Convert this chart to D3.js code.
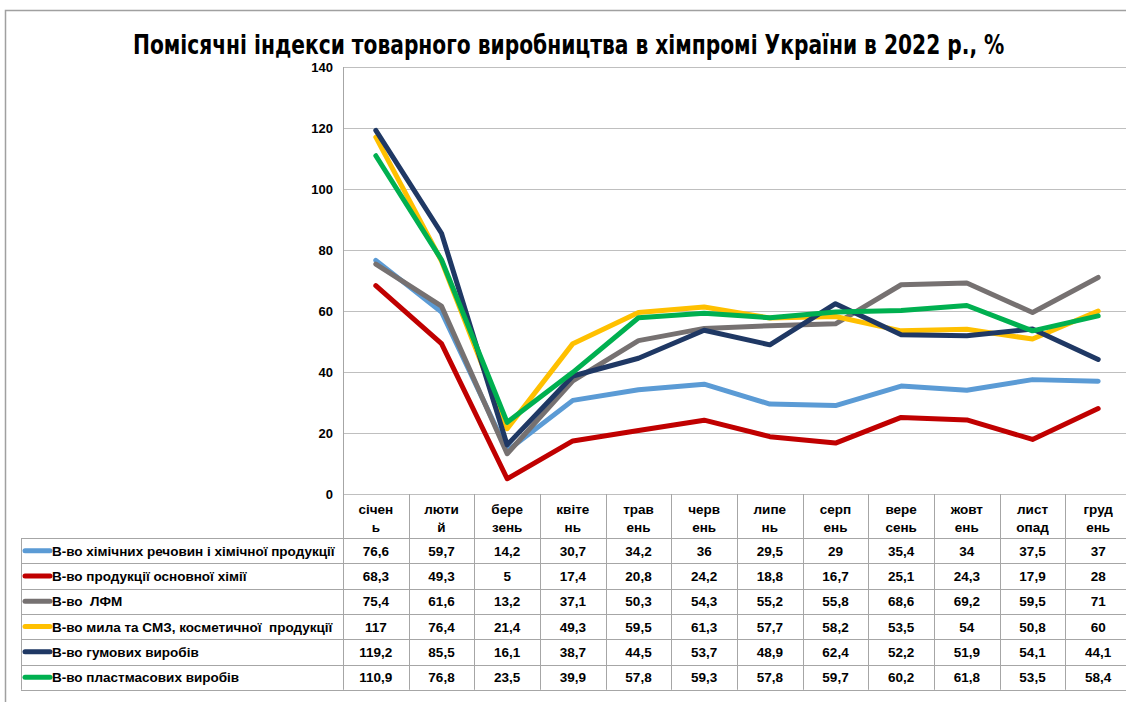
<!DOCTYPE html>
<html>
<head>
<meta charset="utf-8">
<script src="https://cdn.jsdelivr.net/npm/d3@7"></script>
<style>
  html, body { margin: 0; padding: 0; background: #fff; }
  svg { display: block; }
  text { font-family: "Liberation Sans", Arial, sans-serif; font-weight: bold; fill: #000; white-space: pre; }
</style>
</head>
<body>
<svg id="chart" width="1126" height="702"></svg>
<script>
// ---- DATA ----
const title = "Помісячні індекси товарного виробництва в хімпромі України в 2022 р., %";
const months = ["січень","лютий","березень","квітень","травень","червень","липень","серпень","вересень","жовтень","листопад","грудень"];
const monthLine1 = ["січен","люти","бере","квіте","трав","черв","липе","серп","вере","жовт","лист","груд"];
const monthLine2 = ["ь","й","зень","нь","ень","ень","нь","ень","сень","ень","опад","ень"];
const yTicks = [0, 20, 40, 60, 80, 100, 120, 140];

const seriesNames = [
  "В-во хімічних речовин і хімічної продукції",
  "В-во продукції основної хімії",
  "В-во  ЛФМ",
  "В-во мила та СМЗ, косметичної  продукції",
  "В-во гумових виробів",
  "В-во пластмасових виробів"
];
const chemicals = [76.6, 59.7, 14.2, 30.7, 34.2, 36, 29.5, 29, 35.4, 34, 37.5, 37];
const basicChem = [68.3, 49.3, 5, 17.4, 20.8, 24.2, 18.8, 16.7, 25.1, 24.3, 17.9, 28];
const paints    = [75.4, 61.6, 13.2, 37.1, 50.3, 54.3, 55.2, 55.8, 68.6, 69.2, 59.5, 71];
const soap      = [117, 76.4, 21.4, 49.3, 59.5, 61.3, 57.7, 58.2, 53.5, 54, 50.8, 60];
const rubber    = [119.2, 85.5, 16.1, 38.7, 44.5, 53.7, 48.9, 62.4, 52.2, 51.9, 54.1, 44.1];
const plastics  = [110.9, 76.8, 23.5, 39.9, 57.8, 59.3, 57.8, 59.7, 60.2, 61.8, 53.5, 58.4];
const seriesValues = [chemicals, basicChem, paints, soap, rubber, plastics];
const seriesColors = ["#5B9BD5", "#C00000", "#767171", "#FFC000", "#1F3864", "#00B050"];
const drawOrder = [0, 1, 2, 3, 4, 5];

// ---- LAYOUT ----
const svg = d3.select("#chart");
const plotLeft = 343, plotRight = 1131, plotTop = 67, plotBottom = 494;
const tableLeft = 21, headerBottom = 538, rowH = 25.3;
const gridColor = "#BFBFBF", tableLine = "#A6A6A6";
const fs = "13.5px";

const x = d3.scaleBand().domain(months).range([plotLeft, plotRight]);
const y = d3.scaleLinear().domain([0, 140]).range([plotBottom, plotTop]);

// outer frame
svg.append("path")
  .attr("d", `M5.5,702 V10.5 H1126`)
  .attr("fill", "none").attr("stroke", "#A0A0A0").attr("stroke-width", 1.5);

// title: rendered at natural size, then horizontally scaled to the reference width
const titleText = svg.append("text")
  .attr("x", 0).attr("y", 0)
  .style("font-family", "'Liberation Sans Narrow', 'DejaVu Sans Condensed', 'Open Sans', sans-serif")
  .style("font-size", "27px")
  .text(title);
const natural = titleText.node().getComputedTextLength();
const targetW = 872;
titleText.attr("transform", `translate(133,54) scale(${targetW / natural},1)`);

// gridlines
svg.append("g").selectAll("line").data(yTicks).join("line")
  .attr("x1", plotLeft).attr("x2", plotRight)
  .attr("y1", d => Math.round(y(d)) + 0.5).attr("y2", d => Math.round(y(d)) + 0.5)
  .attr("stroke", gridColor).attr("stroke-width", 1);

// y axis (labels only)
const yAxis = svg.append("g")
  .attr("transform", `translate(${plotLeft - 10},0)`)
  .call(d3.axisLeft(y).tickValues(yTicks).tickSize(0).tickPadding(0));
yAxis.select(".domain").remove();
yAxis.selectAll("text")
  .style("font-family", "'Liberation Sans', Arial, sans-serif")
  .style("font-weight", "bold").style("font-size", "13px").attr("fill", "#000");

// vertical axis line (extends through the table)
svg.append("line")
  .attr("x1", plotLeft + 0.5).attr("x2", plotLeft + 0.5)
  .attr("y1", plotTop).attr("y2", headerBottom + rowH * 6)
  .attr("stroke", tableLine);

// ---- TABLE ----
const tableBottom = headerBottom + rowH * 6;
const tg = svg.append("g");
tg.selectAll("line.col").data(months.slice(1)).join("line")
  .attr("class", "col")
  .attr("x1", d => Math.round(x(d)) + 0.5).attr("x2", d => Math.round(x(d)) + 0.5)
  .attr("y1", plotBottom).attr("y2", tableBottom)
  .attr("stroke", tableLine);
const rowLines = d3.range(7).map(i => headerBottom + i * rowH);
tg.selectAll("line.row").data(rowLines).join("line")
  .attr("class", "row")
  .attr("x1", tableLeft).attr("x2", plotRight)
  .attr("y1", d => Math.round(d) + 0.5).attr("y2", d => Math.round(d) + 0.5)
  .attr("stroke", tableLine);
tg.append("line")
  .attr("x1", tableLeft + 0.5).attr("x2", tableLeft + 0.5)
  .attr("y1", headerBottom).attr("y2", tableBottom)
  .attr("stroke", tableLine);

// month headers
const mh = tg.selectAll("text.month").data(months).join("text")
  .attr("class", "month")
  .attr("text-anchor", "middle")
  .style("font-size", fs);
mh.append("tspan").attr("x", d => x(d) + x.bandwidth() / 2).attr("y", 514)
  .text((d, i) => monthLine1[i]);
mh.append("tspan").attr("x", d => x(d) + x.bandwidth() / 2).attr("y", 532)
  .text((d, i) => monthLine2[i]);

// rows
seriesNames.forEach((name, r) => {
  const cy = headerBottom + r * rowH + rowH / 2;
  tg.append("line")
    .attr("x1", 25).attr("x2", 50)
    .attr("y1", cy).attr("y2", cy)
    .attr("stroke", seriesColors[r]).attr("stroke-width", 5)
    .attr("stroke-linecap", "round");
  tg.append("text")
    .attr("x", 52).attr("y", cy + 5)
    .attr("xml:space", "preserve")
    .style("font-size", fs)
    .text(name);
  tg.selectAll(null).data(seriesValues[r]).join("text")
    .attr("x", (d, i) => x(months[i]) + x.bandwidth() / 2)
    .attr("y", cy + 5)
    .attr("text-anchor", "middle")
    .style("font-size", fs)
    .text(d => String(d).replace(".", ","));
});

// ---- LINES ----
const line = d3.line()
  .x((d, i) => x(months[i]) + x.bandwidth() / 2)
  .y(d => y(d));
svg.append("g").selectAll("path").data(drawOrder).join("path")
  .attr("d", i => line(seriesValues[i]))
  .attr("fill", "none")
  .attr("stroke", i => seriesColors[i])
  .attr("stroke-width", 5)
  .attr("stroke-linejoin", "round")
  .attr("stroke-linecap", "round");
</script>
</body>
</html>
